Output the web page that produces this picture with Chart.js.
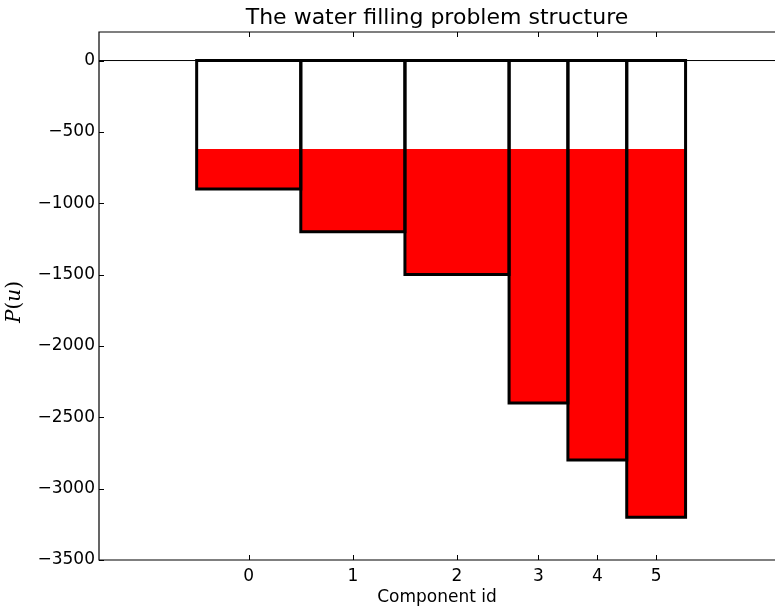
<!DOCTYPE html>
<html>
<head>
<meta charset="utf-8">
<script src="https://cdn.jsdelivr.net/npm/chart.js@4/dist/chart.umd.min.js"></script>
<style>
  html, body { margin: 0; padding: 0; background: #fff; overflow: hidden; }
  #wrap { width: 775px; height: 608px; position: relative; }
</style>
</head>
<body>
<div id="wrap"><canvas id="c" width="775" height="608"></canvas></div>
<script>
// ---- data ----
const categories = ['0', '1', '2', '3', '4', '5'];
const barWidths = [1.77, 1.77, 1.77, 1.0, 1.0, 1.0];
const barBottoms = [-900, -1200, -1500, -2400, -2800, -3200];
const waterLevel = -620;
const yTickValues = [0, -500, -1000, -1500, -2000, -2500, -3000, -3500];
const xLimits = [-1.66, 9.83];
const yLimits = [-3500, 200];
const titleText = 'The water filling problem structure';
const xTitle = 'Component id';
// y label pieces: [text, italic?]
const yTitleParts = [['P', true], ['(', false], ['u', true], [')', false]];

// ---- derived geometry in data units ----
const edges = [0];
barWidths.forEach((w, i) => edges.push(edges[i] + w));
const centers = barWidths.map((w, i) => edges[i] + w / 2);

const datasets = [];
barBottoms.forEach((b, i) => {
  const x0 = edges[i], x1 = edges[i + 1];
  datasets.push({
    label: 'outline ' + categories[i],
    data: [{x: x0, y: 0}, {x: x0, y: b}, {x: x1, y: b}, {x: x1, y: 0}, {x: x0, y: 0}],
    showLine: true, fill: false,
    borderColor: '#000', borderWidth: 3,
    borderJoinStyle: 'miter', borderCapStyle: 'square',
    pointRadius: 0, order: 1
  });
});
datasets.push({
  label: 'zero',
  data: [{x: xLimits[0], y: 0}, {x: xLimits[1], y: 0}],
  showLine: true, fill: false, borderColor: '#000', borderWidth: 1,
  pointRadius: 0, order: 2
});
barBottoms.forEach((b, i) => {
  const x0 = edges[i], x1 = edges[i + 1];
  const top = Math.max(b, waterLevel);
  datasets.push({
    label: 'water ' + categories[i],
    data: [{x: x0, y: top}, {x: x1, y: top}, {x: x1, y: b}, {x: x0, y: b}, {x: x0, y: top}],
    showLine: true, fill: 'shape',
    backgroundColor: '#ff0000', borderColor: 'rgba(0,0,0,0)', borderWidth: 0,
    pointRadius: 0, order: 3
  });
});

const fmt = v => (v < 0 ? '\u2212' + Math.abs(v) : String(v));

const framePlugin = {
  id: 'frame',
  afterDatasetsDraw(chart) {
    const {ctx, chartArea: a, scales: {x, y}} = chart;
    ctx.save();
    ctx.strokeStyle = '#000';
    ctx.lineWidth = 1.2;
    ctx.beginPath();
    ctx.moveTo(a.right + 2, a.top); ctx.lineTo(a.left, a.top);
    ctx.lineTo(a.left, a.bottom); ctx.lineTo(a.right + 2, a.bottom);
    ctx.stroke();
    ctx.lineWidth = 1;
    const L = 5;
    ctx.beginPath();
    x.ticks.forEach(t => {
      const px = Math.round(x.getPixelForValue(t.value)) + 0.5;
      ctx.moveTo(px, a.bottom); ctx.lineTo(px, a.bottom - L);
      ctx.moveTo(px, a.top); ctx.lineTo(px, a.top + L);
    });
    y.ticks.forEach(t => {
      const py = Math.round(y.getPixelForValue(t.value)) + 0.5;
      ctx.moveTo(a.left, py); ctx.lineTo(a.left + L, py);
    });
    ctx.stroke();

    // title centred over the plot area
    ctx.fillStyle = '#000';
    ctx.font = '22px "DejaVu Sans"';
    ctx.textAlign = 'center';
    ctx.textBaseline = 'alphabetic';
    ctx.fillText(titleText, (a.left + a.right) / 2, 24);

    // y label (math style), rotated
    const size = 20;
    const fontOf = it => (it ? 'italic ' : '') + size + 'px "DejaVu Serif"';
    let total = 0;
    const widths = yTitleParts.map(([s, it]) => { ctx.font = fontOf(it); const w = ctx.measureText(s).width; total += w; return w; });
    ctx.translate(14.5 + 0.27 * size, 302);
    ctx.rotate(-Math.PI / 2);
    ctx.textAlign = 'left';
    let cx = -total / 2;
    yTitleParts.forEach(([s, it], i) => {
      ctx.font = fontOf(it);
      ctx.fillText(s, cx, 0);
      cx += widths[i];
    });
    ctx.restore();
  }
};

new Chart(document.getElementById('c'), {
  type: 'scatter',
  data: { datasets },
  plugins: [framePlugin],
  options: {
    responsive: false,
    animation: false,
    layout: { padding: { top: 32, left: 0, right: 0, bottom: 0 } },
    plugins: {
      legend: { display: false },
      tooltip: { enabled: false },
      title: { display: false }
    },
    scales: {
      x: {
        type: 'linear',
        position: 'bottom',
        min: xLimits[0], max: xLimits[1],
        afterBuildTicks: s => { s.ticks = centers.map(v => ({ value: v })); },
        afterFit: s => { s.height = 48; },
        grid: { display: false, drawTicks: false },
        border: { display: false },
        ticks: {
          autoSkip: false, maxRotation: 0, padding: 6,
          color: '#000',
          font: { family: 'DejaVu Sans', size: 17 },
          callback: (v, i) => categories[i]
        },
        title: {
          display: true, text: xTitle, color: '#000',
          font: { family: 'DejaVu Sans', size: 17, lineHeight: 1.2 },
          padding: { top: 0, bottom: 0 }
        }
      },
      y: {
        type: 'linear',
        position: 'left',
        min: yLimits[0], max: yLimits[1],
        afterBuildTicks: s => { s.ticks = yTickValues.map(v => ({ value: v })); },
        afterFit: s => { s.width = 99; },
        grid: { display: false, drawTicks: false },
        border: { display: false },
        ticks: {
          padding: 4, color: '#000',
          font: { family: 'DejaVu Sans', size: 17 },
          callback: v => fmt(v)
        }
      }
    }
  }
});
</script>
</body>
</html>
